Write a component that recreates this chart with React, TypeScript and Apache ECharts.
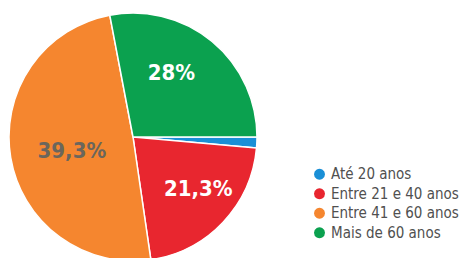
import React, { useEffect, useRef } from "react";
import * as echarts from "echarts";

const categories = ["Até 20 anos", "Entre 21 e 40 anos", "Entre 41 e 60 anos", "Mais de 60 anos"];
const values = [1.4, 21.3, 49.3, 28];
const labelTexts = ["", "21,3%", "39,3%", "28%"];
const colors = ["#1a8fd6", "#e8262f", "#f5862f", "#0ba14f"];
const labelColors = ["#ffffff", "#ffffff", "#6b665c", "#ffffff"];
const labelOffsets = [[0, 0], [18, 7], [3, 3], [-3, -14]];
const FONT = "'DejaVu Sans Condensed', 'Roboto', sans-serif";

export default function App() {
  const ref = useRef<HTMLDivElement>(null);
  useEffect(() => {
    document.body.style.margin = "0";
    const chart = echarts.init(ref.current!, null, { renderer: "svg" });
    chart.setOption({
      animation: false,
      backgroundColor: "#ffffff",
      legend: {
        orient: "vertical",
        left: 307,
        top: 160,
        icon: "circle",
        itemWidth: 13,
        itemHeight: 13,
        itemGap: 1,
        data: categories,
        textStyle: {
          fontFamily: FONT,
          fontSize: 15,
          lineHeight: 18.5,
          color: "#505050",
        },
      },
      series: [
        {
          type: "pie",
          center: [133, 137],
          radius: 124,
          startAngle: 0,
          clockwise: true,
          avoidLabelOverlap: false,
          itemStyle: { borderColor: "#ffffff", borderWidth: 1.5 },
          labelLine: { show: false },
          data: categories.map((name, i) => ({
            name,
            value: values[i],
            itemStyle: { color: colors[i] },
            label: {
              show: labelTexts[i] !== "",
              position: "inside",
              formatter: labelTexts[i],
              color: labelColors[i],
              fontFamily: FONT,
              fontWeight: "bold",
              fontSize: 22,
              offset: labelOffsets[i],
            },
          })),
        },
      ],
    });
    return () => chart.dispose();
  }, []);
  return <div ref={ref} style={{ position: "absolute", left: 0, top: 0, width: 462, height: 258 }} />;
}
